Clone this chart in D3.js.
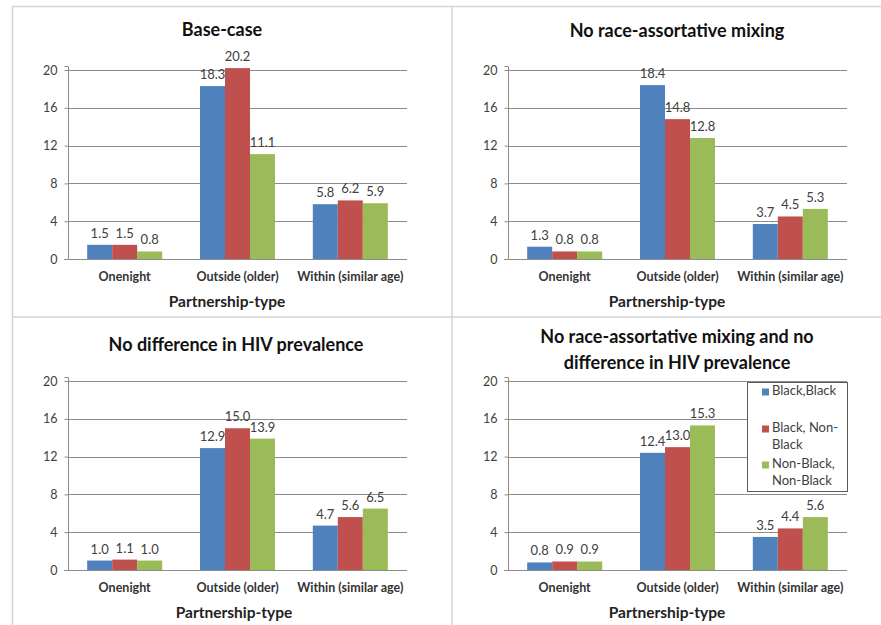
<!DOCTYPE html>
<html>
<head>
<meta charset="utf-8">
<script src="https://cdn.jsdelivr.net/npm/d3@7"></script>
<style>
  html, body { margin: 0; padding: 0; background: #fff; }
  svg { display: block; font-family: Lato, "Open Sans", sans-serif; }
</style>
</head>
<body>
<svg id="chart" width="881" height="625"></svg>
<script>
// Partnership types on the x axis
const categories = ["Onenight", "Outside (older)", "Within (similar age)"];
// Race pairings of the partnership
const seriesNames = ["Black,Black", "Black, Non-Black", "Non-Black, Non-Black"];
const seriesColors = ["#4F81BD", "#C0504D", "#9BBB59"];
const yTicks = [0, 4, 8, 12, 16, 20];

// Values per scenario, one row per series, one entry per category
const baseCase = [
  [1.5, 18.3, 5.8],
  [1.5, 20.2, 6.2],
  [0.8, 11.1, 5.9]
];
const noRaceMixing = [
  [1.3, 18.4, 3.7],
  [0.8, 14.8, 4.5],
  [0.8, 12.8, 5.3]
];
const noPrevalenceDiff = [
  [1.0, 12.9, 4.7],
  [1.1, 15.0, 5.6],
  [1.0, 13.9, 6.5]
];
const noMixingNoPrevDiff = [
  [0.8, 12.4, 3.5],
  [0.9, 13.0, 4.4],
  [0.9, 15.3, 5.6]
];

const panels = [
  { title: ["Base-case"], data: baseCase, ox: 0, oy: 0, tx: 222, ty: 36, ax: 227, legend: false },
  { title: ["No race-assortative mixing"], data: noRaceMixing, ox: 440, oy: 0, tx: 237, ty: 37, ax: 227, legend: false },
  { title: ["No difference in HIV prevalence"], data: noPrevalenceDiff, ox: 0, oy: 311, tx: 236, ty: 40, ax: 234, legend: false },
  { title: ["No race-assortative mixing and no", "difference in HIV prevalence"], data: noMixingNoPrevDiff, ox: 440, oy: 311, tx: 237, ty: 32, ax: 227, legend: true }
];

const svg = d3.select("#chart");

// Panel frame lines
const frame = svg.append("g").attr("stroke", "#d4d4d4").attr("stroke-width", 1.5).attr("fill", "none");
frame.append("line").attr("x1", 12).attr("x2", 881).attr("y1", 6.5).attr("y2", 6.5);
frame.append("line").attr("x1", 12).attr("x2", 881).attr("y1", 317).attr("y2", 317);
frame.append("line").attr("x1", 12.5).attr("x2", 12.5).attr("y1", 6).attr("y2", 625);
frame.append("line").attr("x1", 452).attr("x2", 452).attr("y1", 6).attr("y2", 625);

const plotLeft = 68, plotRight = 407, plotTop = 70, plotBottom = 259;

panels.forEach(p => {
  const g = svg.append("g").attr("transform", `translate(${p.ox},${p.oy})`);

  const x = d3.scaleBand().domain(categories).range([plotLeft, plotRight]).paddingInner(0.335).paddingOuter(0.17);
  const xs = d3.scaleBand().domain(d3.range(seriesNames.length)).range([0, x.bandwidth()]);
  const y = d3.scaleLinear().domain([0, 20]).range([plotBottom, plotTop]);

  // Horizontal gridlines
  g.append("g").selectAll("line").data(yTicks.filter(t => t > 0)).join("line")
    .attr("x1", plotLeft).attr("x2", plotRight)
    .attr("y1", d => Math.round(y(d)) + 0.5).attr("y2", d => Math.round(y(d)) + 0.5)
    .attr("stroke", "#8c8c8c").attr("stroke-width", 1);

  // Bars with value labels
  p.data.forEach((vals, si) => {
    g.append("g").selectAll("rect").data(vals).join("rect")
      .attr("x", (d, i) => x(categories[i]) + xs(si))
      .attr("width", xs.bandwidth())
      .attr("y", d => y(d))
      .attr("height", d => y(0) - y(d))
      .attr("fill", seriesColors[si]);
    g.append("g").selectAll("text").data(vals).join("text")
      .attr("x", (d, i) => x(categories[i]) + xs(si) + xs.bandwidth() / 2)
      .attr("y", d => y(d) - 7)
      .attr("text-anchor", "middle")
      .attr("font-size", 13)
      .attr("fill", "#404040")
      .text(d => d.toFixed(1));
  });

  // Y axis
  const yAxis = g.append("g").attr("transform", `translate(${plotLeft + 0.5},0)`)
    .call(d3.axisLeft(y).tickValues(yTicks).tickSize(4).tickFormat(d3.format("d")));
  yAxis.select(".domain").attr("stroke", "#8c8c8c").attr("d", `M-4,${plotTop - 3.5}H0V${plotBottom}`);
  yAxis.selectAll(".tick line").attr("stroke", "#8c8c8c");
  yAxis.selectAll(".tick text").attr("font-size", 12.5).attr("fill", "#404040").attr("font-family", "Lato, sans-serif").attr("x", -11);

  // X axis baseline
  g.append("line").attr("x1", plotLeft - 4).attr("x2", plotRight)
    .attr("y1", plotBottom + 0.5).attr("y2", plotBottom + 0.5)
    .attr("stroke", "#8c8c8c");

  // Category labels
  g.append("g").selectAll("text").data(categories).join("text")
    .attr("x", d => x(d) + x.bandwidth() / 2)
    .attr("y", 281)
    .attr("text-anchor", "middle")
    .attr("font-size", 12.5).attr("font-weight", "bold").attr("fill", "#333")
    .text(d => d);

  // Axis title
  g.append("text").attr("x", p.ax).attr("y", 307)
    .attr("text-anchor", "middle").attr("font-size", 15.5).attr("font-weight", "bold").attr("fill", "#222")
    .text("Partnership-type");

  // Panel title
  p.title.forEach((line, li) => {
    g.append("text").attr("x", p.tx).attr("y", p.ty + li * 25.5)
      .attr("text-anchor", "middle").attr("font-size", 18).attr("font-weight", "bold").attr("fill", "#111")
      .text(line);
  });

  if (p.legend) {
    const lg = g.append("g").attr("transform", "translate(307,71)");
    lg.append("rect").attr("x", 0.5).attr("y", 0.5).attr("width", 100).attr("height", 109)
      .attr("fill", "#fff").attr("stroke", "#595959").attr("stroke-width", 1);
    const entries = [
      { lines: ["Black,Black"], y: 13 },
      { lines: ["Black, Non-", "Black"], y: 50 },
      { lines: ["Non-Black,", "Non-Black"], y: 86 }
    ];
    entries.forEach((e, i) => {
      lg.append("rect").attr("x", 15).attr("y", e.y - 6.5).attr("width", 7).attr("height", 7).attr("fill", seriesColors[i]);
      e.lines.forEach((ln, k) => {
        lg.append("text").attr("x", 25).attr("y", e.y + k * 16.5)
          .attr("font-size", 13).attr("fill", "#404040").text(ln);
      });
    });
  }
});
</script>
</body>
</html>
